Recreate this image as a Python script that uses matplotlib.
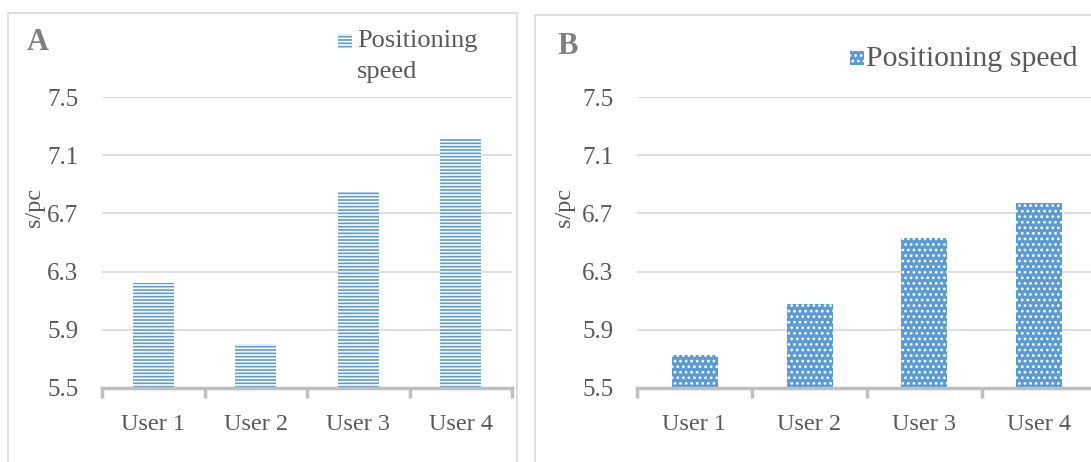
import numpy as np
import matplotlib
matplotlib.use("Agg")
import matplotlib.pyplot as plt
from matplotlib.patches import Rectangle

users = ["User 1", "User 2", "User 3", "User 4"]
speed_a = [6.22, 5.80, 6.85, 7.22]
speed_b = [5.73, 6.08, 6.53, 6.77]
yticks = [5.5, 5.9, 6.3, 6.7, 7.1, 7.5]

plt.rcParams['font.family'] = ['Liberation Serif', 'DejaVu Serif']
plt.rcParams['hatch.linewidth'] = 1.2
grey = '#595959'
blue = '#5B9BD5'

fig = plt.figure(figsize=(10.91, 4.62), dpi=100)
W, H = 1091, 462

# panel frames
for x0, y0, x1 in [(8, 13, 517), (535, 15, 1100)]:
    fig.patches.append(Rectangle((x0 / W, -0.05), (x1 - x0) / W, 1.05 - y0 / H,
                                 transform=fig.transFigure, fill=False,
                                 edgecolor='#d9d9d9', linewidth=1.2))

def panel(rect, vals, hatch, letter, lx, ly):
    ax = fig.add_axes(rect)
    x = np.arange(len(users))
    ax.bar(x, vals, width=0.4, bottom=0, color=blue, edgecolor='white',
           linewidth=0, hatch=hatch, zorder=3)
    ax.set_ylim(5.5, 7.5)
    ax.set_xlim(-0.5, len(users) - 0.5)
    ax.set_yticks(yticks)
    ax.set_yticklabels([f"{v:.1f}" for v in yticks])
    ax.set_xticks(x)
    ax.set_xticklabels(users)
    ax.set_xticks(np.arange(-0.5, len(users)), minor=True)
    ax.tick_params(axis='x', which='major', length=0, pad=19, labelsize=17.5, labelcolor=grey)
    ax.tick_params(axis='x', which='minor', length=7, width=2.5, color='#bfbfbf')
    ax.tick_params(axis='y', length=0, pad=17, labelsize=18, labelcolor=grey)
    ax.grid(axis='y', color='#d9d9d9', linewidth=1.2, zorder=0)
    for s in ['top', 'right', 'left']:
        ax.spines[s].set_visible(False)
    ax.spines['bottom'].set_color('#bfbfbf')
    ax.spines['bottom'].set_linewidth(2.5)
    ax.spines['bottom'].set_zorder(4)
    ax.set_ylabel("s/pc", fontsize=17.5, color=grey)
    ax.yaxis.set_label_coords(-(rect[0] * W - (lx + 18)) / (rect[2] * W), 0.62)
    fig.text(lx / W, 1 - ly / H, letter, fontsize=22, fontweight='bold',
             color='#7f7f7f', va='center', ha='left')
    return ax

def legend_key(x0, y0, size, hatch, lines, tx, ty, fs, step):
    fig.patches.append(Rectangle((x0 / W, 1 - (y0 + size) / H), size / W, size / H,
                                 transform=fig.transFigure, facecolor=blue,
                                 edgecolor='white', linewidth=0, hatch=hatch))
    for i, t in enumerate(lines):
        fig.text(tx / W, 1 - (ty + i * step) / H, t, fontsize=fs, color=grey,
                 va='center', ha='left')

ax_a = panel([102 / W, 1 - 388 / H, 410 / W, 291 / H], speed_a, '-----', 'A', 27, 43)
ax_b = panel([637 / W, 1 - 388 / H, 460 / W, 291 / H], speed_b, '...', 'B', 557, 46)

legend_key(338, 34, 14, '-----', ["Positioning", "speed"], 357, 41, 19, 31)
legend_key(850, 51, 14, '...', ["Positioning speed"], 866, 59, 21.5, 0)

fig.savefig("out.png", dpi=100)
